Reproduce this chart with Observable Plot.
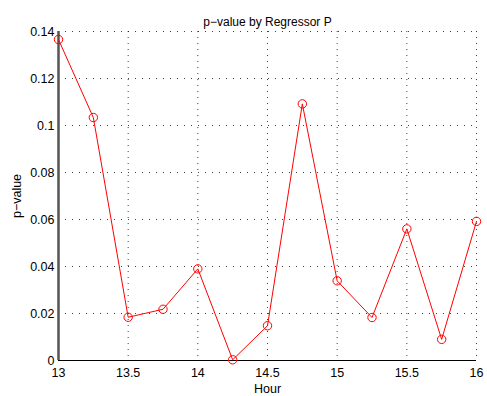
<!DOCTYPE html>
<html>
<head>
<meta charset="utf-8">
<script src="https://cdn.jsdelivr.net/npm/d3@7"></script>
<script src="https://cdn.jsdelivr.net/npm/@observablehq/plot@0.6"></script>
<style>
  html, body { margin: 0; padding: 0; background: #fff; }
</style>
</head>
<body>
<div id="chart"></div>
<script>
const hours = [13, 13.25, 13.5, 13.75, 14, 14.25, 14.5, 14.75, 15, 15.25, 15.5, 15.75, 16];
const pValues = [0.1366, 0.1034, 0.0184, 0.0218, 0.0390, 0.0003, 0.0148, 0.1092, 0.0339, 0.0183, 0.0560, 0.0090, 0.0592];
const xTicks = [13, 13.5, 14, 14.5, 15, 15.5, 16];
const yTicks = [0, 0.02, 0.04, 0.06, 0.08, 0.1, 0.12, 0.14];
const titleText = "p\u2212value by Regressor P";
const xLabel = "Hour";
const yLabel = "p\u2212value";

const data = hours.map((h, i) => ({hour: h, p: pValues[i]}));

const chart = Plot.plot({
  width: 487,
  height: 396,
  marginLeft: 58,
  marginRight: 11,
  marginTop: 31,
  marginBottom: 36,
  style: {fontFamily: "'Liberation Sans', Arial, Helvetica, sans-serif", fontSize: "12px", color: "#000", background: "#fff"},
  x: {domain: [13, 16], ticks: xTicks, label: null},
  y: {domain: [0, 0.14], ticks: yTicks, label: null},
  marks: [
    Plot.gridX(xTicks, {stroke: "#000", strokeOpacity: 0.75, strokeDasharray: "1,5", strokeWidth: 1}),
    Plot.gridY(yTicks, {stroke: "#000", strokeOpacity: 0.75, strokeDasharray: "1,6", strokeWidth: 1}),
    Plot.axisX({ticks: xTicks, tickSize: 0, tickPadding: 8, tickFormat: d => String(d), fontSize: 12.5,
      label: xLabel, labelAnchor: "center", labelArrow: "none", labelOffset: 32}),
    Plot.axisY({ticks: yTicks, tickSize: 0, tickPadding: 4, tickFormat: d => String(+d.toFixed(2)), fontSize: 12.5,
      label: yLabel, labelAnchor: "center", labelArrow: "none", labelOffset: 46}),
    Plot.ruleY([0], {stroke: "#000", strokeWidth: 1.2}),
    Plot.ruleX([13], {stroke: "#555", strokeWidth: 2.5}),
    Plot.line(data, {x: "hour", y: "p", stroke: "#ff0000", strokeWidth: 1}),
    Plot.dot(data, {x: "hour", y: "p", r: 4.2, stroke: "#ff0000", fill: "none", strokeWidth: 1}),
    Plot.text([titleText], {frameAnchor: "top", dy: -14, fontSize: 12, fill: "#000"})
  ]
});
document.getElementById("chart").appendChild(chart);
</script>
</body>
</html>
